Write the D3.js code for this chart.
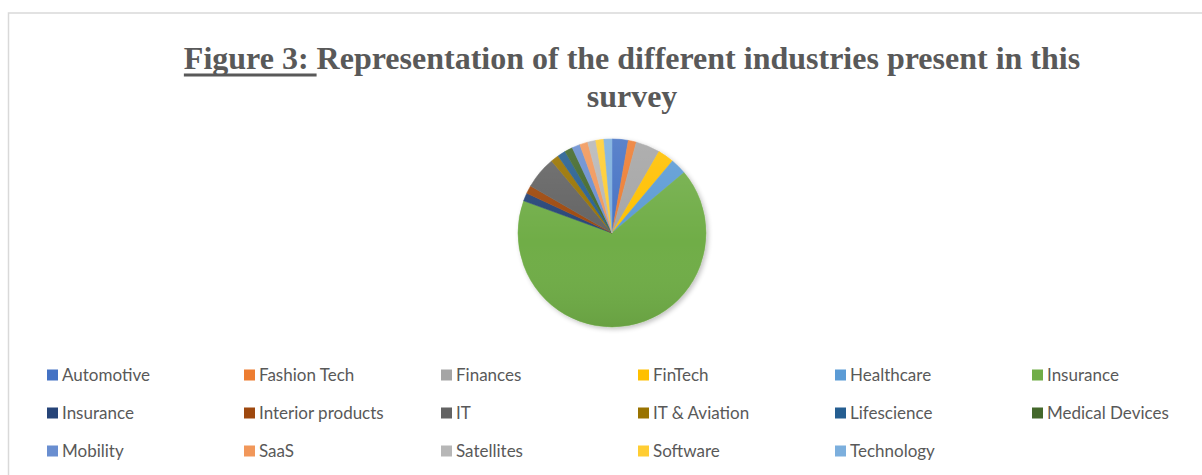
<!DOCTYPE html>
<html>
<head>
<meta charset="utf-8">
<script src="https://cdn.jsdelivr.net/npm/d3@7"></script>
<style>
  html, body { margin: 0; padding: 0; background: #fff; }
  svg { display: block; }
</style>
</head>
<body>
<svg id="chart" width="1202" height="475"></svg>
<script>
// Industries represented among survey respondents (number of responses)
const industries = [
  "Automotive", "Fashion Tech", "Finances", "FinTech", "Healthcare", "Insurance",
  "Insurance", "Interior products", "IT", "IT & Aviation", "Lifescience", "Medical Devices",
  "Mobility", "SaaS", "Satellites", "Software", "Technology"
];
const responses = [2, 1, 3, 2, 2, 48, 1, 1, 4, 1, 1, 1, 1, 1, 1, 1, 1];
const sliceColors = [
  "#4472C4", "#ED7D31", "#A5A5A5", "#FFC000", "#5B9BD5", "#70AD47",
  "#264478", "#9E480E", "#636363", "#997300", "#255E91", "#43682B",
  "#698ED0", "#F1975A", "#B7B7B7", "#FFCD33", "#7CAFDD"
];
const titleLine1Lead = "Figure 3: ";
const titleLine1Rest = "Representation of the different industries present in this";
const titleLine2 = "survey";

const data = industries.map((name, i) => ({ name, value: responses[i], color: sliceColors[i], idx: i }));

const svg = d3.select("#chart");

// Chart frame
svg.append("rect")
  .attr("x", 8.5).attr("y", 13)
  .attr("width", 1240).attr("height", 500)
  .attr("fill", "#fff")
  .attr("stroke", "#d9d9d9").attr("stroke-width", 1.5);

// Title
const titleFont = "'Liberation Serif', 'Times New Roman', serif";
const titleSize = 32;
const title = svg.append("text")
  .attr("x", 632).attr("y", 69)
  .attr("text-anchor", "middle")
  .attr("font-family", titleFont)
  .attr("font-weight", "bold")
  .attr("font-size", titleSize)
  .attr("fill", "#595959")
  .attr("xml:space", "preserve")
  .style("white-space", "pre");
const lead = title.append("tspan").text(titleLine1Lead);
title.append("tspan").text(titleLine1Rest);

// Underline beneath the figure number, including the trailing space
const leadLen = lead.node().getComputedTextLength();
const leadX = lead.node().getStartPositionOfChar(0).x;
svg.append("rect")
  .attr("x", leadX).attr("y", 73.5)
  .attr("width", leadLen).attr("height", 3)
  .attr("fill", "#595959");

svg.append("text")
  .attr("x", 632).attr("y", 107)
  .attr("text-anchor", "middle")
  .attr("font-family", titleFont)
  .attr("font-weight", "bold")
  .attr("font-size", titleSize)
  .attr("fill", "#595959")
  .text(titleLine2);

// Pie
const cx = 612, cy = 233, R = 94;
const defs = svg.append("defs");
const shade = defs.append("linearGradient")
  .attr("id", "pieShade").attr("x1", 0).attr("y1", 0).attr("x2", 0).attr("y2", 1);
shade.append("stop").attr("offset", "0%").attr("stop-color", "#fff").attr("stop-opacity", 0.12);
shade.append("stop").attr("offset", "55%").attr("stop-color", "#fff").attr("stop-opacity", 0.0);
shade.append("stop").attr("offset", "100%").attr("stop-color", "#000").attr("stop-opacity", 0.07);

const shadow = defs.append("filter").attr("id", "pieShadow")
  .attr("x", "-20%").attr("y", "-20%").attr("width", "140%").attr("height", "140%");
shadow.append("feGaussianBlur").attr("in", "SourceAlpha").attr("stdDeviation", 2.5);
shadow.append("feOffset").attr("dx", 1.5).attr("dy", 1.5).attr("result", "blur");
shadow.append("feComponentTransfer").append("feFuncA").attr("type", "linear").attr("slope", 0.25);
const merge = shadow.append("feMerge");
merge.append("feMergeNode");
merge.append("feMergeNode").attr("in", "SourceGraphic");

const pie = d3.pie().value(d => d.value).sort(null);
const arc = d3.arc().innerRadius(0).outerRadius(R);

const g = svg.append("g").attr("transform", `translate(${cx},${cy})`);
const slices = g.append("g").attr("filter", "url(#pieShadow)");
slices.selectAll("path")
  .data(pie(data))
  .join("path")
  .attr("d", arc)
  .attr("fill", d => d.data.color)
  .attr("stroke", d => d.data.color)
  .attr("stroke-width", 0.5);
g.append("circle").attr("r", R).attr("fill", "url(#pieShade)");

// Legend: six columns, three rows
const colX = d3.scaleLinear().domain([0, 1]).range([47, 244]);
const rowY = d3.scaleLinear().domain([0, 1]).range([375, 413]);
const legend = svg.append("g");
const items = legend.selectAll("g")
  .data(data)
  .join("g")
  .attr("transform", (d, i) => `translate(${colX(i % 6)},${rowY(Math.floor(i / 6))})`);
items.append("rect")
  .attr("x", 0).attr("y", -5.5)
  .attr("width", 11).attr("height", 11)
  .attr("fill", d => d.color);
items.append("text")
  .attr("x", 15).attr("y", 0)
  .attr("dy", "0.35em")
  .attr("font-family", "Lato, 'Open Sans', sans-serif")
  .attr("font-size", 17)
  .attr("fill", "#595959")
  .text(d => d.name);
</script>
</body>
</html>
